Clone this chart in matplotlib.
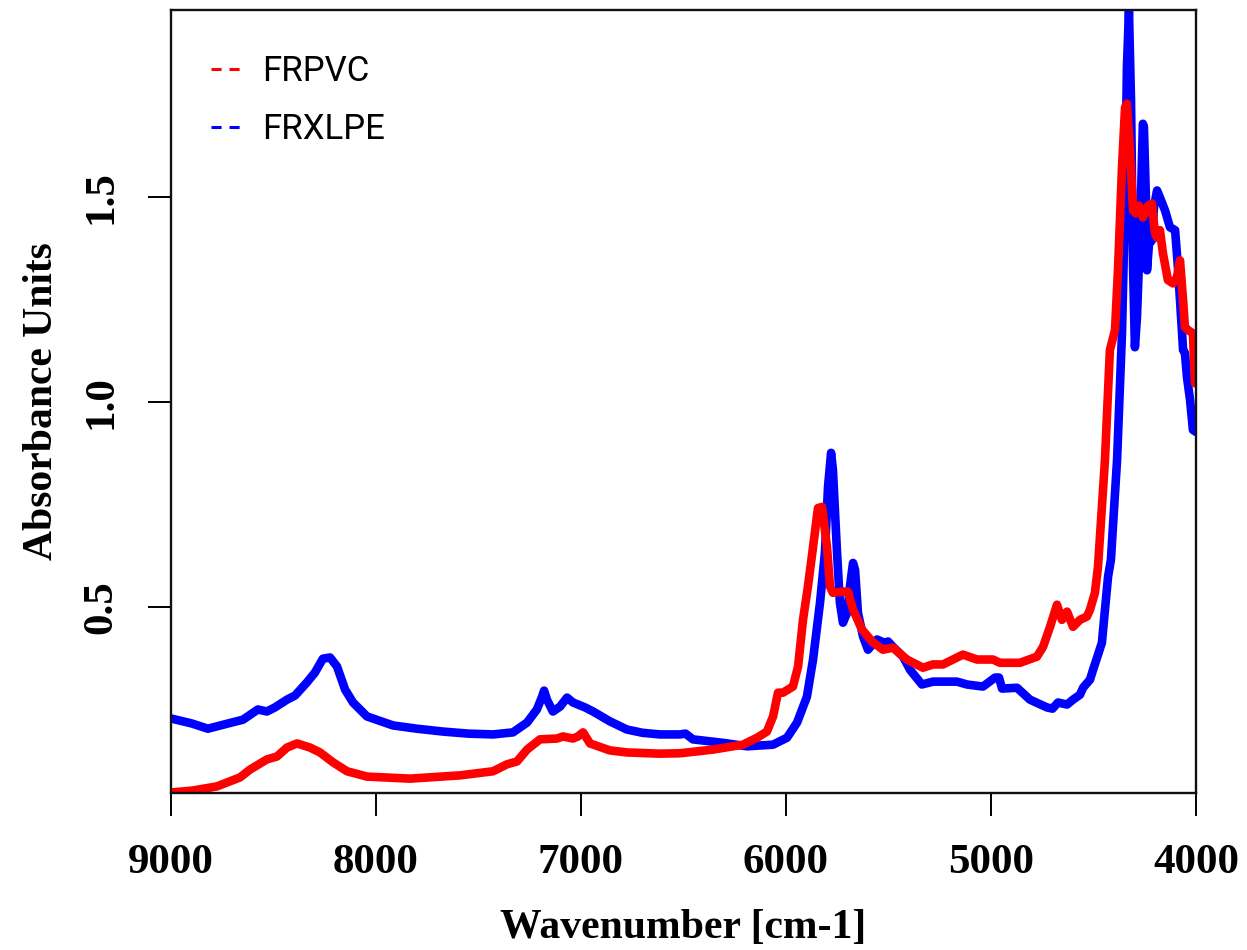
import matplotlib
matplotlib.use("Agg")
import matplotlib.pyplot as plt
from matplotlib.lines import Line2D

# FRXLPE spectrum (blue)
xlpe_wn = [9000, 8900, 8820, 8720, 8649, 8576, 8532, 8493, 8434, 8395, 8337, 8298,
           8259, 8224, 8190, 8151, 8112, 8044, 7917, 7800, 7673, 7550, 7429, 7332,
           7263, 7215, 7190, 7180, 7166, 7137, 7102, 7068, 7039, 6980, 6941, 6859,
           6776, 6700, 6615, 6517, 6490, 6454, 6300, 6190, 6063, 5995, 5946, 5898,
           5868, 5834, 5810, 5795, 5780, 5771, 5751, 5737, 5722, 5702, 5688, 5673,
           5663, 5649, 5624, 5600, 5575, 5556, 5520, 5502, 5478, 5429, 5395, 5337,
           5283, 5166, 5117, 5039, 4980, 4961, 4946, 4873, 4810, 4727, 4700, 4673,
           4629, 4600, 4566, 4551, 4517, 4502, 4459, 4444, 4429, 4415, 4385, 4361,
           4346, 4337, 4327, 4317, 4307, 4298, 4288, 4273, 4259, 4254, 4244, 4239,
           4229, 4215, 4205, 4190, 4176, 4151, 4127, 4102, 4088, 4068, 4063, 4054,
           4044, 4029, 4015, 4000]
xlpe_abs = [0.227, 0.215, 0.202, 0.215, 0.224, 0.249, 0.244, 0.254, 0.273, 0.283, 0.315, 0.339,
            0.373, 0.376, 0.354, 0.298, 0.266, 0.232, 0.210, 0.202, 0.195, 0.190, 0.188, 0.193,
            0.217, 0.249, 0.280, 0.295, 0.273, 0.244, 0.256, 0.278, 0.266, 0.254, 0.244, 0.220,
            0.200, 0.192, 0.188, 0.188, 0.190, 0.176, 0.167, 0.159, 0.163, 0.180, 0.217, 0.280,
            0.371, 0.510, 0.632, 0.793, 0.876, 0.834, 0.632, 0.510, 0.461, 0.485, 0.549, 0.607,
            0.590, 0.485, 0.427, 0.395, 0.410, 0.420, 0.412, 0.415, 0.402, 0.378, 0.346, 0.310,
            0.317, 0.317, 0.310, 0.305, 0.327, 0.327, 0.300, 0.302, 0.273, 0.254, 0.251, 0.266,
            0.261, 0.273, 0.285, 0.302, 0.322, 0.346, 0.412, 0.493, 0.573, 0.615, 0.859, 1.168,
            1.493, 1.817, 1.955, 1.737, 1.330, 1.134, 1.207, 1.412, 1.680, 1.671, 1.493, 1.322,
            1.388, 1.395, 1.476, 1.517, 1.500, 1.468, 1.427, 1.420, 1.329, 1.168, 1.127, 1.120,
            1.061, 1.005, 0.932, 0.927]

# FRPVC spectrum (red)
pvc_wn = [9000, 8893, 8776, 8663, 8615, 8532, 8483, 8434, 8385, 8322, 8273, 8210,
          8141, 8044, 7834, 7590, 7429, 7361, 7312, 7263, 7200, 7117, 7088, 7039,
          7015, 6990, 6956, 6859, 6776, 6615, 6517, 6356, 6210, 6141, 6093, 6063,
          6039, 6015, 5966, 5941, 5917, 5893, 5868, 5844, 5824, 5800, 5785, 5771,
          5722, 5698, 5673, 5629, 5580, 5527, 5478, 5410, 5332, 5283, 5234, 5137,
          5068, 4990, 4956, 4859, 4776, 4746, 4712, 4678, 4654, 4629, 4600, 4566,
          4532, 4517, 4493, 4478, 4444, 4420, 4395, 4380, 4361, 4346, 4337, 4322,
          4307, 4293, 4278, 4259, 4234, 4215, 4200, 4190, 4176, 4161, 4137, 4112,
          4093, 4078, 4063, 4054, 4039, 4015, 4005]
pvc_abs = [0.046, 0.051, 0.061, 0.083, 0.102, 0.127, 0.134, 0.156, 0.166, 0.156, 0.144, 0.120,
           0.098, 0.085, 0.080, 0.088, 0.098, 0.115, 0.122, 0.151, 0.176, 0.178, 0.183, 0.178,
           0.183, 0.193, 0.166, 0.149, 0.144, 0.141, 0.142, 0.151, 0.163, 0.180, 0.195, 0.232,
           0.290, 0.290, 0.305, 0.354, 0.468, 0.549, 0.646, 0.741, 0.744, 0.646, 0.549, 0.534,
           0.537, 0.537, 0.493, 0.444, 0.415, 0.395, 0.400, 0.371, 0.351, 0.359, 0.359, 0.383,
           0.371, 0.371, 0.363, 0.363, 0.378, 0.402, 0.451, 0.505, 0.468, 0.488, 0.451, 0.468,
           0.476, 0.493, 0.534, 0.598, 0.859, 1.127, 1.176, 1.329, 1.573, 1.720, 1.729, 1.615,
           1.468, 1.461, 1.480, 1.451, 1.480, 1.485, 1.412, 1.402, 1.420, 1.363, 1.298, 1.290,
           1.305, 1.346, 1.249, 1.183, 1.176, 1.168, 1.046]

x_ticks = [9000, 8000, 7000, 6000, 5000, 4000]
y_ticks = [0.5, 1.0, 1.5]

serif = "Liberation Serif"

fig = plt.figure(figsize=(12.47, 9.5), dpi=100)
ax = fig.add_axes([0.1371, 0.1653, 0.8220, 0.8242])

ax.plot(xlpe_wn, xlpe_abs, color="#0000ff", lw=6.2,
        solid_joinstyle="round", solid_capstyle="round")
ax.plot(pvc_wn, pvc_abs, color="#ff0000", lw=6.2,
        solid_joinstyle="round", solid_capstyle="round")

ax.set_xlim(9000, 4000)
ax.set_ylim(0.045, 1.958)

ax.set_xticks(x_ticks)
ax.set_xticklabels([str(t) for t in x_ticks], fontfamily=serif,
                   fontweight="bold", fontsize=31)
ax.set_yticks(y_ticks)
ax.set_yticklabels([f"{t:.1f}" for t in y_ticks], fontfamily=serif,
                   fontweight="bold", fontsize=31, rotation=90, va="center")

ax.tick_params(axis="both", direction="out", length=16.5, width=1.4,
               color="black")
ax.tick_params(axis="x", pad=20)
ax.tick_params(axis="y", pad=20)

for side in ["top", "bottom", "left", "right"]:
    ax.spines[side].set_linewidth(1.7)
    ax.spines[side].set_color("#111111")

ax.set_xlabel("Wavenumber [cm-1]", fontfamily=serif, fontweight="bold",
              fontsize=30)
ax.set_ylabel("Absorbance Units", fontfamily=serif, fontweight="bold",
              fontsize=30)
ax.xaxis.set_label_coords(0.5, -0.148)
ax.yaxis.set_label_coords(-0.107, 0.5)

handles = [
    Line2D([], [], color="#ff0000", lw=2.2, dashes=(3.3, 2.6)),
    Line2D([], [], color="#0000ff", lw=2.2, dashes=(3.3, 2.6)),
]
ax.legend(handles, ["FRPVC", "FRXLPE"], loc="upper left",
          bbox_to_anchor=(0.009, 0.982), frameon=False,
          prop={"family": "Roboto", "size": 25},
          handlelength=0.84, handletextpad=0.62, labelspacing=0.72)

fig.savefig("out.png", dpi=100)
